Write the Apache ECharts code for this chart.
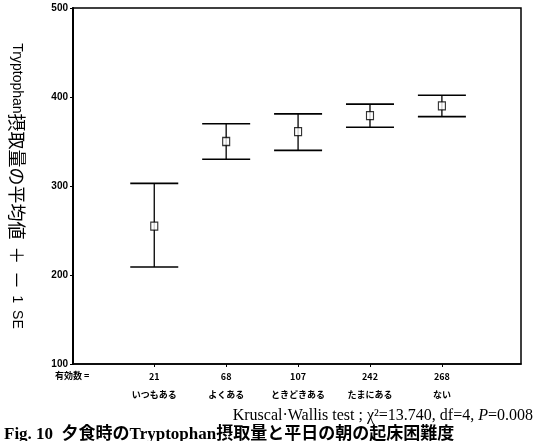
<!DOCTYPE html>
<html>
<head>
<meta charset="utf-8">
<script src="https://cdn.jsdelivr.net/npm/echarts@6/dist/echarts.min.js"></script>
<style>
  html, body { margin: 0; padding: 0; background: #fff; }
  #chart { width: 536px; height: 441px; }
</style>
</head>
<body>
<div id="chart"></div>
<script>
// Groups (frequency of difficulty waking on weekday mornings)
const categories = ['いつもある', 'よくある', 'ときどきある', 'たまにある', 'ない'];
const counts = [21, 68, 107, 242, 268];
// Mean Tryptophan intake and mean ± 1 SE bounds
const means = [255, 350, 361, 379, 390];
const upperSE = [303, 370, 381, 392, 402];
const lowerSE = [209, 330, 340, 366, 378];
const yTicks = [100, 200, 300, 400, 500];
const groupPos = [1, 2, 3, 4, 5];

const chart = echarts.init(document.getElementById('chart'), null, { renderer: 'canvas' });

const jpFont = '"Noto Sans CJK JP", "Liberation Sans", sans-serif';

const errData = groupPos.map((x, i) => [x, lowerSE[i], upperSE[i]]);
const meanData = groupPos.map((x, i) => [x, means[i]]);

const option = {
  backgroundColor: '#fff',
  animation: false,
  grid: {
    left: 73, right: 15, top: 8, bottom: 77,
    containLabel: false,
    outerBoundsMode: 'none',
    show: true, borderColor: '#000', borderWidth: 1.5, backgroundColor: 'transparent'
  },
  xAxis: {
    type: 'value',
    min: -0.13,
    max: 6.1,
    splitLine: { show: false },
    axisLine: { show: true, onZero: false, lineStyle: { color: '#000', width: 1.5 } },
    axisTick: { show: true, length: 3, customValues: groupPos, lineStyle: { color: '#000' } },
    axisLabel: {
      customValues: groupPos,
      margin: 4,
      formatter: v => '{n|' + counts[v - 1] + '}\n{c|' + categories[v - 1] + '}',
      rich: {
        n: { fontSize: 9, fontWeight: 'bold', fontFamily: jpFont, color: '#000', lineHeight: 18 },
        c: { fontSize: 9, fontWeight: 'bold', fontFamily: jpFont, color: '#000', lineHeight: 18 }
      }
    }
  },
  yAxis: {
    type: 'value',
    min: 100,
    max: 500,
    interval: 100,
    splitLine: { show: false },
    axisLine: { show: true, onZero: false, lineStyle: { color: '#000', width: 2 } },
    axisTick: { show: true, length: 3, lineStyle: { color: '#000' } },
    axisLabel: {
      customValues: yTicks,
      margin: 5,
      fontSize: 10,
      fontWeight: 'bold',
      fontFamily: '"Liberation Sans", Arial, sans-serif',
      color: '#000',
      padding: [0, 0, 4, 0]
    },
    name: '{a|Tryptophan}{b|摂取量の平均値}  {b|＋}  {b|－}  {a|1}  {a|SE}',
    nameLocation: 'middle',
    nameRotate: -90,
    nameGap: 47,
    nameTextStyle: {
      rich: {
        a: { fontSize: 14, fontFamily: '"Liberation Sans", Arial, sans-serif', color: '#000' },
        b: { fontSize: 18, fontFamily: jpFont, color: '#000' }
      }
    }
  },
  series: [
    {
      type: 'custom',
      name: 'SE',
      data: errData,
      encode: { x: 0, y: [1, 2] },
      renderItem: (params, api) => {
        const x = api.value(0);
        const lo = api.coord([x, api.value(1)]);
        const hi = api.coord([x, api.value(2)]);
        const half = 24;
        const st = { stroke: '#000', lineWidth: 1.3 };
        return {
          type: 'group',
          children: [
            { type: 'line', shape: { x1: lo[0], y1: lo[1], x2: hi[0], y2: hi[1] }, style: st },
            { type: 'line', shape: { x1: hi[0] - half, y1: hi[1], x2: hi[0] + half, y2: hi[1] }, style: { stroke: '#000', lineWidth: 1.6 } },
            { type: 'line', shape: { x1: lo[0] - half, y1: lo[1], x2: lo[0] + half, y2: lo[1] }, style: { stroke: '#000', lineWidth: 1.6 } }
          ]
        };
      },
      z: 2
    },
    {
      type: 'scatter',
      name: 'mean',
      data: meanData,
      symbol: 'rect',
      symbolSize: [7, 8],
      itemStyle: { color: '#fff', borderColor: '#000', borderWidth: 1.2 },
      z: 3
    }
  ],
  graphic: [
    {
      type: 'text',
      left: 55,
      top: 371,
      style: { text: '有効数 =', fontSize: 9, fontWeight: 'bold', fontFamily: jpFont, fill: '#000' }
    },
    {
      type: 'text',
      right: 3,
      top: 408,
      style: {
        text: 'Kruscal·Wallis test ; χ²=13.740, df=4, {i|P}=0.008',
        fontSize: 16,
        fontFamily: '"Liberation Serif", "DejaVu Serif", serif',
        fill: '#000',
        rich: {
          i: { fontSize: 16, fontStyle: 'italic', fontFamily: '"Liberation Serif", serif', fill: '#000' }
        }
      }
    },
    {
      type: 'text',
      left: 4,
      top: 426,
      style: {
        text: 'Fig. 10  夕食時のTryptophan摂取量と平日の朝の起床困難度',
        fontSize: 17,
        fontWeight: 'bold',
        fontFamily: '"Liberation Serif", "Noto Sans CJK JP", serif',
        fill: '#000'
      }
    }
  ]
};

chart.setOption(option);
</script>
</body>
</html>
